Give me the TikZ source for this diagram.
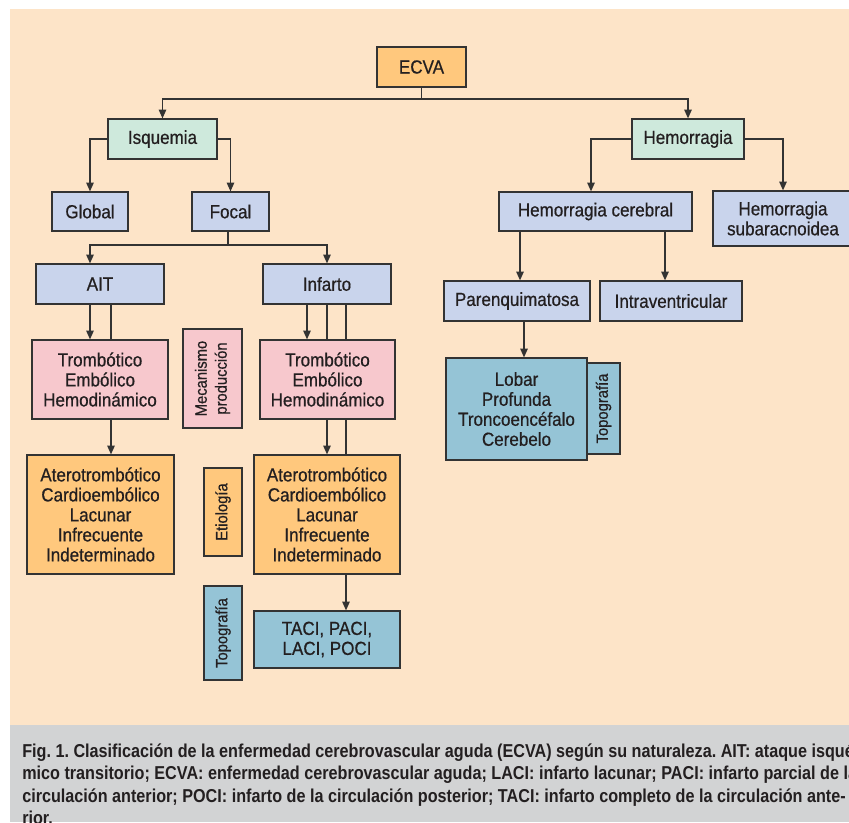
\documentclass[tikz,border=0pt]{standalone}
\usepackage{fontspec}
\setmainfont{Liberation Sans}[FakeStretch=0.9]
\newfontfamily\boxfont{Liberation Sans}[FakeStretch=0.9,FakeBold=0.6]
\newfontfamily\capfont{Liberation Sans}[FakeStretch=0.867]
\usetikzlibrary{arrows.meta,calc}
\pgfdeclarelayer{bg}\pgfdeclarelayer{back}
\pgfsetlayers{bg,back,main}
\definecolor{peach}{RGB}{253,228,200}
\definecolor{capgrey}{RGB}{210,211,212}
\definecolor{orangebox}{RGB}{255,200,125}
\definecolor{mint}{RGB}{206,233,220}
\definecolor{bluebox}{RGB}{201,212,236}
\definecolor{pinkbox}{RGB}{247,200,205}
\definecolor{tealbox}{RGB}{149,196,214}
\definecolor{linec}{RGB}{51,51,51}
\definecolor{txt}{RGB}{35,31,32}
\frenchspacing
\begin{document}
\begin{tikzpicture}[x=0.75pt,y=-0.75pt,
  box/.style={draw=linec, line width=0.9pt, inner sep=0pt, align=center,
    font=\boxfont\fontsize{14.2}{15}\selectfont, text=txt},
  wh/.style 2 args={minimum width=#1*0.75pt, minimum height=#2*0.75pt},
  side/.style={box, rotate=90, font=\boxfont\fontsize{12.3}{15}\selectfont},
  arr/.style={draw=linec, line width=1pt, -{Triangle[length=6.5pt,width=5.5pt]}},
  ln/.style={draw=linec, line width=1pt},
  captext/.style={anchor=base west, inner sep=0pt, text=txt,
    font=\capfont\bfseries\fontsize{14}{15}\selectfont}]
\path[use as bounding box] (0,0) rectangle (849,822);
\clip (0,0) rectangle (849,822);
\begin{pgfonlayer}{bg}
  \fill[peach] (10,9) rectangle (849,725);
  \fill[capgrey] (10,725) rectangle (849,822);
\end{pgfonlayer}

% nodes
\node[box, fill=orangebox, wh={89}{40}] (ecva) at (421.5,67) {ECVA};
\node[box, fill=mint, wh={109}{40}] (isq) at (162.5,139) {Isquemia};
\node[box, fill=mint, wh={112}{40}] (hem) at (688,139) {Hemorragia};
\node[box, fill=bluebox, wh={76}{39}] (glob) at (90,211.5) {Global};
\node[box, fill=bluebox, wh={77}{39}] (focal) at (230.5,211.5) {Focal};
\node[box, fill=bluebox, wh={193}{39}] (hc) at (595.5,211.5) {Hemorragia cerebral};
\node[box, fill=bluebox, wh={140}{55}] (hsa) at (783,218.5) {Hemorragia\\subaracnoidea};
\node[box, fill=bluebox, wh={128}{40}] (ait) at (100,284) {AIT};
\node[box, fill=bluebox, wh={128}{40}] (inf) at (327,284) {Infarto};
\node[box, fill=bluebox, wh={146}{40}] (par) at (517,301) {Parenquimatosa};
\node[box, fill=bluebox, wh={142}{40}] (intra) at (671,301) {Intraventricular};
\node[box, fill=pinkbox, wh={136}{79}] (mec1) at (100,379.5) {Trombótico\\Embólico\\Hemodinámico};
\node[side, fill=pinkbox, wh={99}{59}] (mecL) at (212.5,378.5) {Mecanismo\\producción};
\node[box, fill=pinkbox, wh={135}{79}] (mec2) at (327.5,379.5) {Trombótico\\Embólico\\Hemodinámico};
\node[box, fill=orangebox, wh={147}{119}] (eti1) at (100.5,514.5) {Aterotrombótico\\Cardioembólico\\Lacunar\\Infrecuente\\Indeterminado};
\node[side, fill=orangebox, wh={88}{38}] (etiL) at (223,512) {Etiología};
\node[box, fill=orangebox, wh={146}{119}] (eti2) at (327,514.5) {Aterotrombótico\\Cardioembólico\\Lacunar\\Infrecuente\\Indeterminado};
\node[side, fill=tealbox, wh={94}{38}] (topL) at (223,633) {Topografía};
\node[box, fill=tealbox, wh={146}{57}] (taci) at (327,639.5) {TACI, PACI,\\LACI, POCI};
\node[box, fill=tealbox, wh={141}{102}] (lob) at (516.5,409) {Lobar\\Profunda\\Troncoencéfalo\\Cerebelo};
\node[side, fill=tealbox, wh={91}{33}] (topR) at (603.5,408.5) {Topografía};

% junctions
\coordinate (j1) at (421.5,99);
\coordinate (j2) at (228,245);
\coordinate (aitA) at ($(mec1.north)+(-10,0)$);
\coordinate (aitB) at ($(eti1.north)+(10.5,0)$);
\coordinate (infA) at ($(mec2.north)+(-20.5,0)$);
\coordinate (infB) at (eti2.north);
\coordinate (infC) at ($(taci.north)+(19,0)$);
\coordinate (hcA) at ($(hc.north)+(-4.5,0)$);
\coordinate (parA) at ($(par.north)+(3,0)$);
\coordinate (intA) at ($(intra.north)+(-6,0)$);
\coordinate (lobA) at ($(lob.north)+(7.5,0)$);
\coordinate (aitX) at ($(ait.north)+(-10,0)$);

\begin{pgfonlayer}{back}
  \draw[ln] (ecva.south) -- (j1);
  \draw[arr] (j1) -| (isq.north);
  \draw[arr] (j1) -| (hem.north);
  \draw[arr] (isq.west) -| (glob.north);
  \draw[arr] (isq.east) -| (focal.north);
  \draw[ln] (focal.south -| j2) -- (j2);
  \draw[arr] (j2) -| (aitX);
  \draw[arr] (j2) -| (inf.north);
  \draw[arr] (aitA |- ait.south) -- (aitA);
  \draw[arr] (aitB |- ait.south) -- (aitB);
  \draw[arr] (infA |- inf.south) -- (infA);
  \draw[arr] (infB |- inf.south) -- (infB);
  \draw[arr] (infC |- inf.south) -- (infC);
  \draw[arr] (hem.west) -| (hcA);
  \draw[arr] (hem.east) -| (hsa.north);
  \draw[arr] (parA |- hc.south) -- (parA);
  \draw[arr] (intA |- hc.south) -- (intA);
  \draw[arr] (lobA |- par.south) -- (lobA);
\end{pgfonlayer}

% caption
\node[captext] (c1) at (22,757) {Fig. 1. Clasificación de la enfermedad cerebrovascular aguda (ECVA) según su naturaleza. AIT: ataque isqué-};
\node[captext] (c2) at (22,779.5) {mico transitorio; ECVA: enfermedad cerebrovascular aguda; LACI: infarto lacunar; PACI: infarto parcial de la};
\node[captext] (c3) at (22,802) {circulación anterior; POCI: infarto de la circulación posterior; TACI: infarto completo de la circulación ante-};
\node[captext] (c4) at (22,824.5) {rior.};
\end{tikzpicture}
\end{document}
